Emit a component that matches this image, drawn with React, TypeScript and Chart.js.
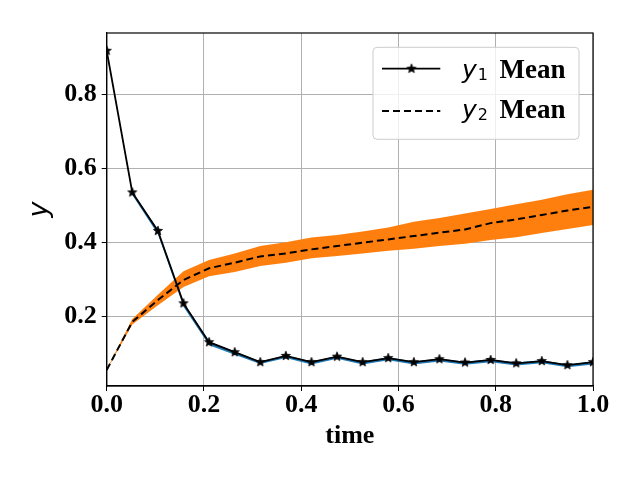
import React, { useEffect, useRef } from "react";
import { Chart, registerables } from "chart.js";

Chart.register(...registerables);

const times = [0, 0.0526, 0.1053, 0.1579, 0.2105, 0.2632, 0.3158, 0.3684, 0.4211, 0.4737, 0.5263, 0.5789, 0.6316, 0.6842, 0.7368, 0.7895, 0.8421, 0.8947, 0.9474, 1.0];
const y1Mean = [0.918, 0.535, 0.431, 0.235, 0.13, 0.103, 0.076, 0.093, 0.076, 0.091, 0.076, 0.087, 0.076, 0.084, 0.075, 0.082, 0.073, 0.079, 0.068, 0.076];
const y1Upper = [0.919, 0.537, 0.434, 0.238, 0.132, 0.105, 0.078, 0.095, 0.078, 0.093, 0.078, 0.089, 0.078, 0.086, 0.077, 0.084, 0.075, 0.081, 0.07, 0.078];
const y1Lower = [0.917, 0.528, 0.422, 0.226, 0.122, 0.096, 0.071, 0.087, 0.07, 0.085, 0.07, 0.081, 0.07, 0.078, 0.069, 0.076, 0.067, 0.073, 0.062, 0.07];
const y2Mean = [0.055, 0.185, 0.244, 0.298, 0.33, 0.345, 0.362, 0.37, 0.381, 0.39, 0.399, 0.408, 0.417, 0.426, 0.435, 0.452, 0.462, 0.474, 0.486, 0.496];
const y2Upper = [0.056, 0.193, 0.258, 0.322, 0.352, 0.37, 0.39, 0.4, 0.413, 0.42, 0.429, 0.44, 0.456, 0.466, 0.478, 0.49, 0.503, 0.515, 0.53, 0.542];
const y2Lower = [0.054, 0.178, 0.23, 0.279, 0.308, 0.32, 0.336, 0.345, 0.357, 0.363, 0.37, 0.377, 0.383, 0.39, 0.396, 0.406, 0.414, 0.425, 0.436, 0.447];
const xTicks = [0, 0.2, 0.4, 0.6, 0.8, 1.0];
const yTicks = [0.2, 0.4, 0.6, 0.8];
const legendItems = [
  { sym: "y", sub: "1", text: "Mean", dashed: false },
  { sym: "y", sub: "2", text: "Mean", dashed: true },
];

const SERIF = '"Liberation Serif", "Times New Roman", serif';
const SANS = '"DejaVu Sans", sans-serif';

function pts(ys: number[]) {
  return times.map((t, i) => ({ x: t, y: ys[i] }));
}

function makeStar(r: number) {
  const c = document.createElement("canvas");
  const s = Math.ceil(r * 2 + 2);
  c.width = s;
  c.height = s;
  const ctx = c.getContext("2d")!;
  ctx.beginPath();
  for (let k = 0; k < 10; k++) {
    const rad = k % 2 === 0 ? r : r * 0.42;
    const a = -Math.PI / 2 + (k * Math.PI) / 5;
    ctx.lineTo(s / 2 + rad * Math.cos(a), s / 2 + rad * Math.sin(a));
  }
  ctx.closePath();
  ctx.fillStyle = "#000";
  ctx.fill();
  ctx.strokeStyle = "#000";
  ctx.lineWidth = 0.8;
  ctx.stroke();
  return c;
}

const framePlugin = {
  id: "frame",
  afterDatasetsDraw(chart: any) {
    const { ctx, chartArea: a } = chart;
    ctx.save();
    ctx.strokeStyle = "#000";
    ctx.lineWidth = 1.2;
    ctx.strokeRect(a.left, a.top, a.right - a.left, a.bottom - a.top);
    ctx.restore();
  },
};

function makeLegendPlugin(star: HTMLCanvasElement) {
  return {
    id: "mplLegend",
    afterDraw(chart: any) {
      const { ctx, chartArea: a } = chart;
      const w = 206;
      const h = 92;
      const L = a.right - 14 - w;
      const T = a.top + 14.3;
      ctx.save();
      ctx.beginPath();
      const r = 4;
      ctx.moveTo(L + r, T);
      ctx.arcTo(L + w, T, L + w, T + h, r);
      ctx.arcTo(L + w, T + h, L, T + h, r);
      ctx.arcTo(L, T + h, L, T, r);
      ctx.arcTo(L, T, L + w, T, r);
      ctx.closePath();
      ctx.fillStyle = "rgba(255,255,255,0.8)";
      ctx.fill();
      ctx.strokeStyle = "#cccccc";
      ctx.lineWidth = 1;
      ctx.stroke();

      legendItems.forEach((it, i) => {
        const ly = T + 21.4 + i * 42.3;
        const base = T + 31 + i * 39.7;
        ctx.beginPath();
        ctx.strokeStyle = "#000";
        ctx.lineWidth = it.dashed ? 2 : 1.8;
        ctx.setLineDash(it.dashed ? [7, 4] : []);
        ctx.moveTo(L + 9, ly);
        ctx.lineTo(L + 67.3, ly);
        ctx.stroke();
        ctx.setLineDash([]);
        if (!it.dashed) {
          ctx.drawImage(star, L + 38.5 - star.width / 2, ly - star.height / 2);
        }
        ctx.fillStyle = "#000";
        ctx.textBaseline = "alphabetic";
        ctx.textAlign = "left";
        ctx.font = "italic 25px " + SANS;
        const x0 = L + 89;
        ctx.fillText(it.sym, x0, base);
        const yw = ctx.measureText(it.sym).width;
        ctx.font = "16px " + SANS;
        ctx.fillText(it.sub, x0 + yw + 1, base + 1.5);
        ctx.font = "bold 27px " + SERIF;
        ctx.fillText(it.text, L + 126.6, base);
      });
      ctx.restore();
    },
  };
}

export default function App() {
  const ref = useRef<HTMLCanvasElement | null>(null);
  useEffect(() => {
    if (!ref.current) return;
    const star = makeStar(4.8);
    const tickFont = { family: SERIF, size: 26, weight: "bold" as const, lineHeight: 1 };
    const chart = new Chart(ref.current, {
      type: "line",
      data: {
        datasets: [
          {
            label: "y1 Mean",
            data: pts(y1Mean),
            borderColor: "#000",
            borderWidth: 1.8,
            pointStyle: star as any,
            pointRadius: 5,
            fill: false,
            tension: 0,
          },
          {
            label: "y2 Mean",
            data: pts(y2Mean),
            borderColor: "#000",
            borderWidth: 2,
            borderDash: [7, 4],
            pointRadius: 0,
            fill: false,
            tension: 0,
          },
          {
            label: "y1 upper",
            data: pts(y1Upper),
            borderColor: "rgba(0,0,0,0)",
            borderWidth: 0,
            pointRadius: 0,
            backgroundColor: "#1f77b4",
            fill: 3,
            tension: 0,
          },
          {
            label: "y1 lower",
            data: pts(y1Lower),
            borderColor: "rgba(0,0,0,0)",
            borderWidth: 0,
            pointRadius: 0,
            fill: false,
            tension: 0,
          },
          {
            label: "y2 upper",
            data: pts(y2Upper),
            borderColor: "rgba(0,0,0,0)",
            borderWidth: 0,
            pointRadius: 0,
            backgroundColor: "#ff7f0e",
            fill: 5,
            tension: 0,
          },
          {
            label: "y2 lower",
            data: pts(y2Lower),
            borderColor: "rgba(0,0,0,0)",
            borderWidth: 0,
            pointRadius: 0,
            fill: false,
            tension: 0,
          },
        ],
      },
      options: {
        responsive: false,
        animation: false,
        events: [],
        layout: { padding: { top: 33, right: 47, bottom: 0, left: 0 } },
        plugins: {
          legend: { display: false },
          tooltip: { enabled: false },
          title: { display: false },
        },
        scales: {
          x: {
            type: "linear",
            min: 0,
            max: 1,
            afterBuildTicks: (s: any) => {
              s.ticks = xTicks.map((v) => ({ value: v }));
            },
            afterFit: (s: any) => {
              s.height = 94;
            },
            ticks: {
              callback: (v: any) => Number(v).toFixed(1),
              font: tickFont,
              color: "#000",
              padding: 1,
              maxRotation: 0,
              autoSkip: false,
            },
            grid: { color: "#b0b0b0", lineWidth: 1, tickLength: 5, tickColor: "#000", tickWidth: 1 },
            border: { color: "#000", width: 1.2 },
            title: {
              display: true,
              text: "time",
              color: "#000",
              font: tickFont,
              padding: { top: 0, bottom: 30.5 },
            },
          },
          y: {
            type: "linear",
            min: 0.0116,
            max: 0.966,
            afterBuildTicks: (s: any) => {
              s.ticks = yTicks.map((v) => ({ value: v }));
            },
            afterFit: (s: any) => {
              s.width = 106.7;
            },
            ticks: {
              callback: (v: any) => Number(v).toFixed(1),
              font: tickFont,
              color: "#000",
              padding: 5,
            },
            grid: { color: "#b0b0b0", lineWidth: 1, tickLength: 5, tickColor: "#000", tickWidth: 1 },
            border: { color: "#000", width: 1.2 },
            title: {
              display: true,
              text: "y",
              color: "#000",
              font: { family: SANS, size: 27, style: "italic", lineHeight: 1 },
              padding: { top: 26.5, bottom: 0 },
            },
          },
        },
      },
      plugins: [framePlugin, makeLegendPlugin(star)],
    });
    return () => chart.destroy();
  }, []);

  return (
    <div style={{ position: "absolute", left: 0, top: 0, width: 640, height: 480, background: "#fff" }}>
      <canvas ref={ref} width={640} height={480} style={{ display: "block", width: 640, height: 480 }} />
    </div>
  );
}
